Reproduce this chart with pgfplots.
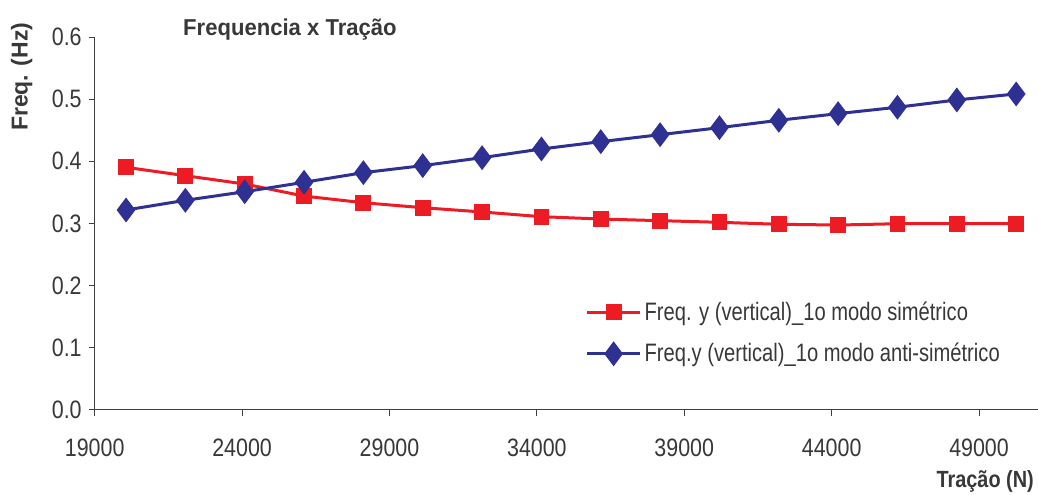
\documentclass[border=0pt]{standalone}
\usepackage{fontspec}
\setmainfont{Liberation Sans}[FakeStretch=0.85]
\newfontfamily\legfont{Liberation Sans}[FakeStretch=0.80]
\newfontfamily\titfont{Liberation Sans}[FakeStretch=0.96]
\newfontfamily\ylabfont{Liberation Sans}
\usepackage{pgfplots}
\pgfplotsset{compat=1.18}
\definecolor{serred}{HTML}{ED1C24}
\definecolor{serblue}{HTML}{2E3192}
\definecolor{txtgray}{HTML}{383838}
\definecolor{axgray}{HTML}{404040}
\begin{document}
\begin{tikzpicture}
\begin{axis}[%
width=471.65pt,
height=186.4pt,
scale only axis,
xmin=19000, xmax=51000,
ymin=0, ymax=0.6,
axis lines*=left,
axis line style={axgray, line width=0.65pt},
tick align=outside,
major tick length=3pt,
tick style={axgray, line width=0.5pt},
xtick={19000,24000,...,49000},
ytick={0,0.1,...,0.6},
scaled ticks=false,
/pgf/number format/assume math mode=true,
xticklabel style={/pgf/number format/fixed, /pgf/number format/1000 sep={}, /pgf/number format/precision=0, yshift=-8pt},
yticklabel style={/pgf/number format/fixed, /pgf/number format/fixed zerofill, /pgf/number format/precision=1},
ticklabel style={font=\fontsize{12.6}{14}\selectfont, text=txtgray},
title={\titfont\bfseries Frequencia x Tração},
every axis title shift=0pt,
title style={at={(rel axis cs:0.207,1.021)}, anchor=center, yshift=0pt, font=\fontsize{11.5}{13}\selectfont, text=txtgray},
xlabel={\bfseries Tração (N)},
xlabel style={at={(rel axis cs:0.944,-0.191)}, anchor=center, font=\fontsize{11.7}{13}\selectfont, text=txtgray},
ylabel={\ylabfont\bfseries Freq. (Hz)},
ylabel style={at={(rel axis cs:-0.0773,0.893)}, anchor=center, font=\fontsize{11.5}{13}\selectfont, text=txtgray},
legend style={at={(rel axis cs:0.520,0.206)}, anchor=west, draw=none, fill=none, inner sep=0pt,
  font=\legfont\fontsize{12.6}{14}\selectfont, text=txtgray, row sep=7pt,
  legend cell align=left, nodes={inner sep=1.5pt}},
legend image code/.code={%
  \draw[#1, mark repeat=2, mark phase=2] plot coordinates {(0pt,0pt) (13.25pt,0pt) (26.5pt,0pt)};},
]
\addplot[color=serred, line width=1.5pt, mark=square*, mark size=3.2pt, mark options={solid}] coordinates {
(20063,0.3903) (22076,0.3768) (24089,0.3634) (26102,0.3440) (28115,0.3333) (30128,0.3253)
(32141,0.3184) (34155,0.3108) (36168,0.3071) (38181,0.3044) (40194,0.3018) (42207,0.2986)
(44220,0.2974) (46233,0.2995) (48246,0.2995) (50260,0.2995)
};
\addlegendentry{Freq. y (vertical)\_1o modo simétrico}
\addplot[color=serblue, line width=1.5pt, mark=diamond*, mark size=5pt, mark options={solid}] coordinates {
(20063,0.3216) (22076,0.3372) (24089,0.3510) (26102,0.3662) (28115,0.3817) (30128,0.3930)
(32141,0.4058) (34155,0.4198) (36168,0.4316) (38181,0.4428) (40194,0.4541) (42207,0.4660)
(44220,0.4767) (46233,0.4870) (48246,0.4987) (50260,0.5084)
};
\addlegendentry{Freq.y (vertical)\_1o modo anti-simétrico}
\end{axis}
\pgfresetboundingbox
\path[use as bounding box] (-47.35pt,-42.15pt) rectangle (471.65pt,204.9pt);
\end{tikzpicture}
\end{document}
